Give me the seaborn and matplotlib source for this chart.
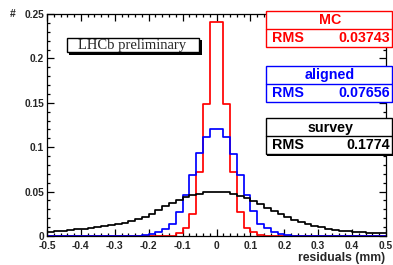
import numpy as np
import pandas as pd
import seaborn as sns
import matplotlib.pyplot as plt
from matplotlib.patches import Rectangle
from matplotlib.ticker import MultipleLocator, FuncFormatter

# residual histograms, 50 bins of 0.02 mm between -0.5 and 0.5
edges = np.linspace(-0.5, 0.5, 51)
centers = (edges[:-1] + edges[1:]) / 2

mc = [0, 0, 0, 0, 0, 0, 0, 0, 0, 0,
      0, 0, 0, 0, 0, 0, 0, 0, 0.0005, 0.003,
      0.0085, 0.025, 0.072, 0.149, 0.241, 0.241, 0.149, 0.072, 0.027, 0.0087,
      0.004, 0.001, 0, 0, 0, 0, 0, 0, 0, 0,
      0, 0, 0, 0, 0, 0, 0, 0, 0, 0]

aligned = [0, 0, 0, 0, 0, 0, 0, 0, 0, 0,
           0, 0, 0, 0, 0.001, 0.002, 0.004, 0.0075, 0.0135, 0.027,
           0.046, 0.0687, 0.093, 0.111, 0.121, 0.1205, 0.111, 0.0923, 0.0687, 0.046,
           0.0285, 0.0135, 0.0087, 0.0049, 0.002, 0.001, 0, 0, 0, 0,
           0, 0, 0, 0, 0, 0, 0, 0, 0, 0]

survey = [0.0050, 0.0055, 0.0061, 0.0068, 0.0076, 0.0084, 0.0092, 0.0100, 0.0110, 0.0121,
          0.0134, 0.0150, 0.0170, 0.0192, 0.0218, 0.0252, 0.0292, 0.0335, 0.0375, 0.0410,
          0.0440, 0.0462, 0.0478, 0.0490, 0.0497, 0.0497, 0.0490, 0.0475, 0.0452, 0.0425,
          0.0392, 0.0355, 0.0318, 0.0280, 0.0245, 0.0212, 0.0183, 0.0157, 0.0134, 0.0114,
          0.0097, 0.0083, 0.0071, 0.0061, 0.0053, 0.0047, 0.0042, 0.0038, 0.0035, 0.0032]

names = ["MC", "aligned", "survey"]
rms = ["0.03743", "0.07656", "0.1774"]
colors = ["#ff0000", "#0000ff", "#000000"]

df = pd.DataFrame({"x": np.tile(centers, 3),
                   "w": mc + aligned + survey,
                   "set": np.repeat(names, len(centers))})

sns.set_style("ticks")
plt.rcParams["font.family"] = ["Liberation Sans", "DejaVu Sans"]

W, H = 393, 265
def fx(x):
    return x / W
def fy(y):
    return 1 - y / H

fig = plt.figure(figsize=(3.93, 2.65), dpi=100)
ax = fig.add_axes([fx(47), fy(236), fx(386) - fx(47), fy(14) - fy(236)])

for name, col in zip(names, colors):
    sns.histplot(data=df[df["set"] == name], x="x", weights="w", bins=list(edges),
                 element="step", fill=False, color=col, linewidth=1.25, ax=ax)

ax.set_xlim(-0.5, 0.5)
ax.set_ylim(0, 0.25)
ax.set_xlabel("")
ax.set_ylabel("")
ax.xaxis.set_major_locator(MultipleLocator(0.1))
ax.xaxis.set_minor_locator(MultipleLocator(0.02))
ax.yaxis.set_major_locator(MultipleLocator(0.05))
ax.yaxis.set_minor_locator(MultipleLocator(0.01))
fmt = FuncFormatter(lambda v, p: f"{round(v, 3) + 0:g}")
ax.xaxis.set_major_formatter(fmt)
ax.yaxis.set_major_formatter(fmt)
ax.tick_params(which="both", direction="in", top=True, right=True, width=0.9, color="black")
ax.tick_params(which="major", length=5, labelsize=7.4)
ax.tick_params(axis="x", which="major", pad=3.3)
ax.tick_params(axis="y", which="major", pad=2)
ax.tick_params(which="minor", length=2.5)
for lab in ax.get_xticklabels() + ax.get_yticklabels():
    lab.set_fontweight("bold")
for s in ax.spines.values():
    s.set_linewidth(0.9)
    s.set_color("black")

fig.text(fx(385), fy(257.5), "residuals (mm)", ha="right", va="center",
         fontsize=8.8, fontweight="bold")
fig.text(fx(13), fy(14), "#", ha="center", va="center", fontsize=7.5, fontweight="bold")

def box(x0, y0, x1, y1, edge, off):
    fig.add_artist(Rectangle((fx(x0 + off), fy(y1 + off)), fx(x1) - fx(x0), fy(y0) - fy(y1),
                             transform=fig.transFigure, facecolor="black", edgecolor="none"))
    fig.add_artist(Rectangle((fx(x0), fy(y1)), fx(x1) - fx(x0), fy(y0) - fy(y1),
                             transform=fig.transFigure, facecolor="white", edgecolor=edge,
                             linewidth=1.0))

# LHCb label
box(66.7, 37.7, 199, 52.3, "black", 2.5)
fig.text(fx(132), fy(45.5), "LHCb preliminary", ha="center", va="center",
         fontsize=10.5, family="Liberation Serif")

# stat boxes
tops = [11, 65.7, 118.3]
for name, r, col, t in zip(names, rms, colors, tops):
    b = t + 36
    mid = t + 18
    box(265.7, t, 392, b, col, 1.2)
    fig.add_artist(plt.Line2D([fx(265.7), fx(392)], [fy(mid), fy(mid)],
                              transform=fig.transFigure, color=col, linewidth=1.0))
    fig.text(fx(330), fy(t + 9.5), name, ha="center", va="center", color=col,
             fontsize=10.3, fontweight="bold")
    fig.text(fx(272), fy(mid + 9), "RMS", ha="left", va="center", color=col,
             fontsize=10.3, fontweight="bold")
    fig.text(fx(390), fy(mid + 9), r, ha="right", va="center", color=col,
             fontsize=10.3, fontweight="bold")

fig.savefig("out.png", dpi=100)
